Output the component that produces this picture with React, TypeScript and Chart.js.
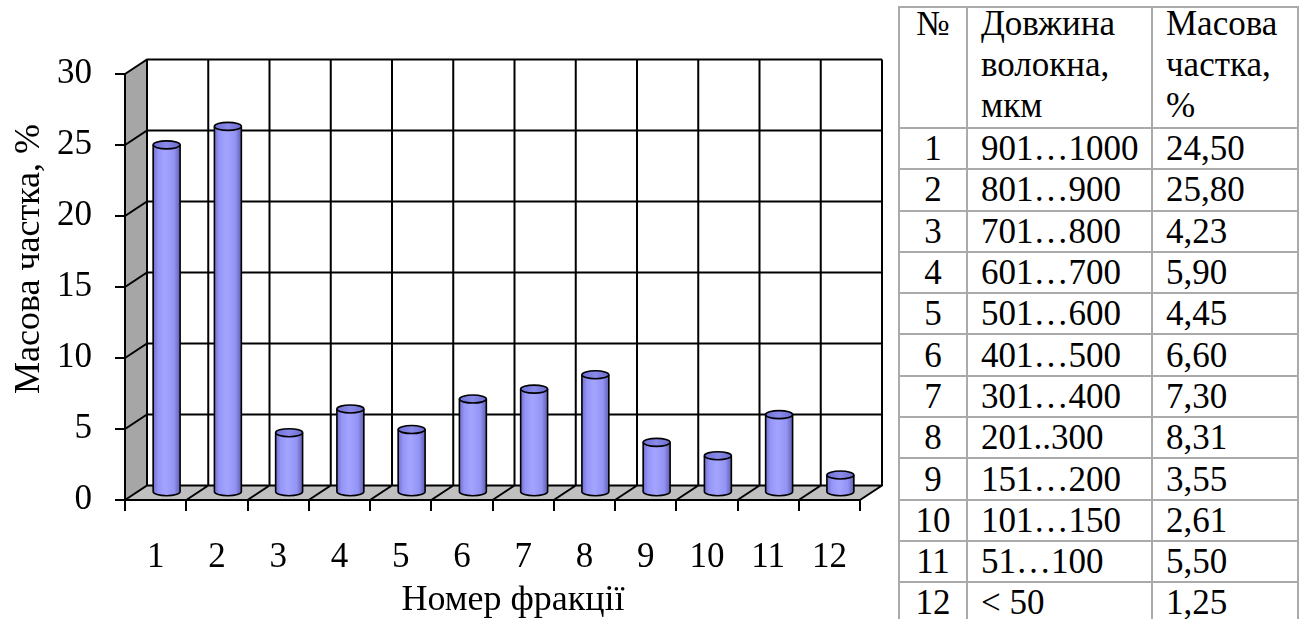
import React, { useEffect, useRef } from 'react';
import { Chart, registerables } from 'chart.js';

Chart.register(...registerables);

// ---- data ----
const FRACTIONS = ['1', '2', '3', '4', '5', '6', '7', '8', '9', '10', '11', '12'];
const FIBER_LENGTHS = [
  '901…1000', '801…900', '701…800', '601…700', '501…600', '401…500',
  '301…400', '201..300', '151…200', '101…150', '51…100', '< 50',
];
const MASS_SHARES = [24.5, 25.8, 4.23, 5.9, 4.45, 6.6, 7.3, 8.31, 3.55, 2.61, 5.5, 1.25];

const Y_MIN = 0;
const Y_MAX = 30;
const Y_STEP = 5;

const Y_TITLE = 'Масова частка, %';
const X_TITLE = 'Номер фракції';
const HEAD_NO = ['№'];
const HEAD_LENGTH = ['Довжина', 'волокна,', 'мкм'];
const HEAD_SHARE = ['Масова', 'частка,', '%'];

// ---- styling ----
const FONT = '"Liberation Serif", "Times New Roman", serif';
const DEPTH_X = 22;
const DEPTH_Y = -14.5;
const CYL_RY = 4;

const formatShare = (v: number) => v.toFixed(2).replace('.', ',');

function drawCylinder(
  ctx: CanvasRenderingContext2D,
  cx: number,
  top: number,
  bottom: number,
  rx: number,
  ry: number,
) {
  const body = ctx.createLinearGradient(cx - rx, 0, cx + rx, 0);
  body.addColorStop(0, '#6f6fc8');
  body.addColorStop(0.18, '#9595f8');
  body.addColorStop(0.45, '#a4a4ff');
  body.addColorStop(0.78, '#9393f4');
  body.addColorStop(1, '#5f5fb0');

  ctx.beginPath();
  ctx.moveTo(cx - rx, top);
  ctx.lineTo(cx - rx, bottom);
  ctx.ellipse(cx, bottom, rx, ry, 0, Math.PI, 0, true);
  ctx.lineTo(cx + rx, top);
  ctx.ellipse(cx, top, rx, ry, 0, 0, Math.PI, true);
  ctx.closePath();
  ctx.fillStyle = body;
  ctx.fill();

  ctx.lineWidth = 1.6;
  ctx.strokeStyle = '#000';
  ctx.beginPath();
  ctx.moveTo(cx - rx, top);
  ctx.lineTo(cx - rx, bottom);
  ctx.ellipse(cx, bottom, rx, ry, 0, Math.PI, 0, true);
  ctx.lineTo(cx + rx, top);
  ctx.stroke();

  const cap = ctx.createLinearGradient(cx - rx, 0, cx + rx, 0);
  cap.addColorStop(0, '#7070d6');
  cap.addColorStop(0.5, '#8a8ae8');
  cap.addColorStop(1, '#6c6cd0');
  ctx.beginPath();
  ctx.ellipse(cx, top, rx, ry, 0, 0, Math.PI * 2);
  ctx.fillStyle = cap;
  ctx.fill();
  ctx.stroke();
}

// walls, floor, back grid, cylinders and axis titles of the 3-D column chart
const depthPlugin = {
  id: 'depth3d',
  beforeDraw(chart: any) {
    const { ctx, chartArea: a, scales } = chart;
    const xs = scales.x;
    const ys = scales.y;
    const L = a.left;
    const R = a.right;
    const T = a.top;
    const B = a.bottom;
    ctx.save();

    ctx.fillStyle = '#a6a6a6';
    ctx.beginPath();
    ctx.moveTo(L, B);
    ctx.lineTo(L, T);
    ctx.lineTo(L + DEPTH_X, T + DEPTH_Y);
    ctx.lineTo(L + DEPTH_X, B + DEPTH_Y);
    ctx.closePath();
    ctx.fill();

    ctx.fillStyle = '#c0c0c0';
    ctx.beginPath();
    ctx.moveTo(L, B);
    ctx.lineTo(R, B);
    ctx.lineTo(R + DEPTH_X, B + DEPTH_Y);
    ctx.lineTo(L + DEPTH_X, B + DEPTH_Y);
    ctx.closePath();
    ctx.fill();

    ctx.strokeStyle = '#000';
    ctx.lineWidth = 2;
    ctx.beginPath();
    ys.ticks.forEach((t: any) => {
      const py = ys.getPixelForValue(t.value);
      ctx.moveTo(L, py);
      ctx.lineTo(L + DEPTH_X, py + DEPTH_Y);
      ctx.lineTo(R + DEPTH_X, py + DEPTH_Y);
    });
    for (let i = 0; i <= FRACTIONS.length; i++) {
      const bx = xs.getPixelForValue(i - 0.5);
      ctx.moveTo(bx, B);
      ctx.lineTo(bx + DEPTH_X, B + DEPTH_Y);
      ctx.lineTo(bx + DEPTH_X, T + DEPTH_Y);
    }
    ctx.stroke();
    ctx.restore();
  },
  afterDatasetsDraw(chart: any) {
    const { ctx } = chart;
    const meta = chart.getDatasetMeta(0);
    ctx.save();
    meta.data.forEach((el: any) => {
      const { x, y, base, width } = el.getProps(['x', 'y', 'base', 'width'], true);
      drawCylinder(ctx, x + DEPTH_X / 2, y + DEPTH_Y / 2, base + DEPTH_Y / 2, width / 2, CYL_RY);
    });
    ctx.restore();
  },
  afterDraw(chart: any) {
    const { ctx } = chart;
    ctx.save();
    ctx.fillStyle = '#000';
    ctx.font = `36px ${FONT}`;
    ctx.textAlign = 'center';
    ctx.textBaseline = 'alphabetic';
    ctx.fillText(X_TITLE, 513, 610);
    ctx.translate(39, 259);
    ctx.rotate(-Math.PI / 2);
    ctx.fillText(Y_TITLE, 0, 0);
    ctx.restore();
  },
};

function ColumnChart() {
  const ref = useRef<HTMLCanvasElement>(null);
  useEffect(() => {
    if (!ref.current) return;
    const chart = new Chart(ref.current, {
      type: 'bar',
      data: {
        labels: FRACTIONS,
        datasets: [
          {
            data: MASS_SHARES,
            backgroundColor: 'rgba(0,0,0,0)',
            borderWidth: 0,
            barPercentage: 0.44,
            categoryPercentage: 1,
          },
        ],
      },
      options: {
        responsive: false,
        devicePixelRatio: 1,
        animation: false,
        events: [],
        layout: { padding: { left: 0, top: 74, right: 30, bottom: 0 } },
        plugins: { legend: { display: false }, tooltip: { enabled: false } },
        scales: {
          x: {
            grid: {
              drawOnChartArea: false,
              drawTicks: true,
              tickLength: 11,
              color: '#000',
              lineWidth: 2,
            },
            border: { display: true, color: '#000', width: 2 },
            ticks: { color: '#000', font: { family: FONT, size: 35 }, padding: 26, maxRotation: 0 },
            afterFit: (s: any) => {
              s.height = 119;
            },
          },
          y: {
            min: Y_MIN,
            max: Y_MAX,
            grid: {
              drawOnChartArea: false,
              drawTicks: true,
              tickLength: 10,
              color: '#000',
              lineWidth: 2,
            },
            border: { display: true, color: '#000', width: 2 },
            ticks: { stepSize: Y_STEP, color: '#000', font: { family: FONT, size: 35 }, padding: 23 },
            afterFit: (s: any) => {
              s.width = 125;
            },
          },
        },
      },
      plugins: [depthPlugin],
    });
    return () => chart.destroy();
  }, []);
  return (
    <canvas
      ref={ref}
      width={890}
      height={619}
      style={{ position: 'absolute', left: 0, top: 0, width: 890, height: 619 }}
    />
  );
}

const cellBorder = '2px solid #aaaaaa';

function HeadCell({ lines, align, pad }: { lines: string[]; align: 'left' | 'center'; pad: number }) {
  return (
    <th
      style={{
        border: cellBorder,
        padding: 0,
        paddingLeft: pad,
        verticalAlign: 'top',
        fontWeight: 'normal',
        textAlign: align,
        height: 119,
      }}
    >
      <div style={{ marginTop: -5, height: 114, lineHeight: '41px' }}>
        {lines.map((l, i) => (
          <div key={i}>{l}</div>
        ))}
      </div>
    </th>
  );
}

function FractionTable() {
  const td: React.CSSProperties = {
    border: cellBorder,
    padding: 0,
    verticalAlign: 'middle',
    height: 39.3,
    whiteSpace: 'nowrap',
  };
  return (
    <table
      style={{
        position: 'absolute',
        left: 898,
        top: 6,
        borderCollapse: 'collapse',
        tableLayout: 'fixed',
        width: 399,
        fontFamily: FONT,
        fontSize: 35,
        lineHeight: '39px',
        color: '#000',
      }}
    >
      <colgroup>
        <col style={{ width: 68 }} />
        <col style={{ width: 185 }} />
        <col style={{ width: 146 }} />
      </colgroup>
      <thead>
        <tr>
          <HeadCell lines={HEAD_NO} align="center" pad={0} />
          <HeadCell lines={HEAD_LENGTH} align="left" pad={13} />
          <HeadCell lines={HEAD_SHARE} align="left" pad={13} />
        </tr>
      </thead>
      <tbody>
        {FRACTIONS.map((f, i) => (
          <tr key={f}>
            <td style={{ ...td, textAlign: 'center' }}>{f}</td>
            <td style={{ ...td, paddingLeft: 13 }}>{FIBER_LENGTHS[i]}</td>
            <td style={{ ...td, paddingLeft: 13 }}>{formatShare(MASS_SHARES[i])}</td>
          </tr>
        ))}
      </tbody>
    </table>
  );
}

export default function App() {
  return (
    <div
      style={{
        position: 'absolute',
        left: 0,
        top: 0,
        width: 1302,
        height: 619,
        overflow: 'hidden',
        background: '#fff',
      }}
    >
      <ColumnChart />
      <FractionTable />
    </div>
  );
}
